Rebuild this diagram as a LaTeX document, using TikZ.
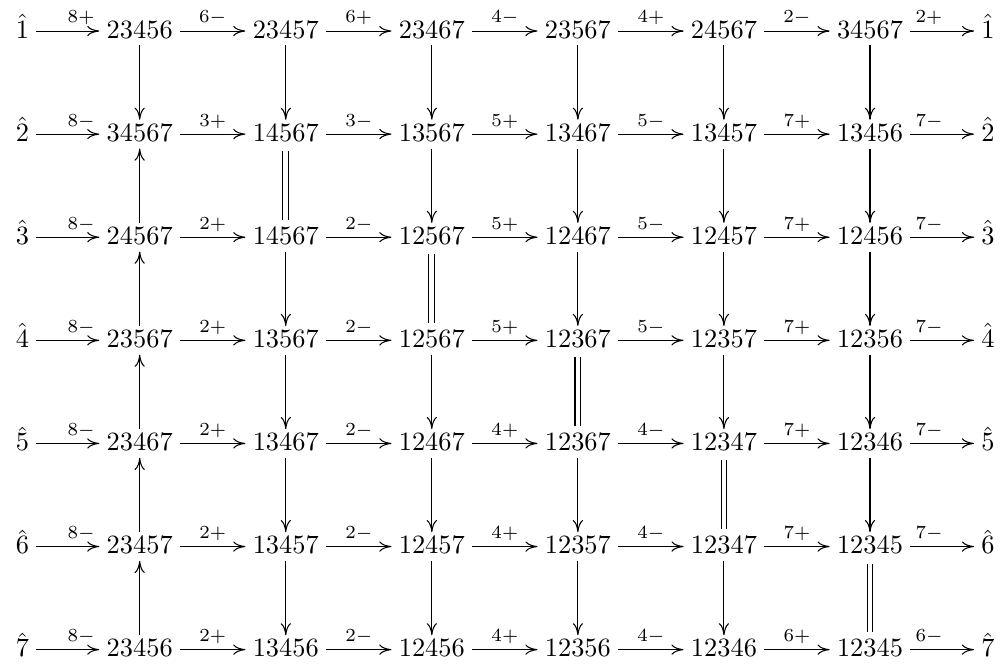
\documentclass[tikz,border=0pt]{standalone}
\usetikzlibrary{arrows.meta}
\newcommand\rownodes[7]{%
  \pgfmathsetmacro\yy{38.3+103.1*(#1-1)}%
  \node[cell] (L#1) at (22.5,\yy) {$\hat{#1}$};
  \node[cell] (n#1-1) at (139.7,\yy) {$#2$};
  \node[cell] (n#1-2) at (285.76,\yy) {$#3$};
  \node[cell] (n#1-3) at (431.82,\yy) {$#4$};
  \node[cell] (n#1-4) at (577.88,\yy) {$#5$};
  \node[cell] (n#1-5) at (723.94,\yy) {$#6$};
  \node[cell] (n#1-6) at (870,\yy) {$#7$};
  \node[cell] (R#1) at (988,\yy) {$\hat{#1}$};
}
\newcommand\rowlabels[8]{%
  \draw[arr] (L#1) -- (n#1-1);
  \path (L#1.base) -- node[lbl] (l#1-0) {$#2$} (n#1-1.base);
  \draw[arr] (n#1-1) -- (n#1-2);
  \path (n#1-1.base) -- node[lbl] (l#1-1) {$#3$} (n#1-2.base);
  \draw[arr] (n#1-2) -- (n#1-3);
  \path (n#1-2.base) -- node[lbl] (l#1-2) {$#4$} (n#1-3.base);
  \draw[arr] (n#1-3) -- (n#1-4);
  \path (n#1-3.base) -- node[lbl] (l#1-3) {$#5$} (n#1-4.base);
  \draw[arr] (n#1-4) -- (n#1-5);
  \path (n#1-4.base) -- node[lbl] (l#1-4) {$#6$} (n#1-5.base);
  \draw[arr] (n#1-5) -- (n#1-6);
  \path (n#1-5.base) -- node[lbl] (l#1-5) {$#7$} (n#1-6.base);
  \draw[arr] (n#1-6) -- (R#1);
  \path (n#1-6.base) -- node[lbl] (l#1-6) {$#8$} (R#1.base);
}
\newcommand\dn[2]{\draw[arr] (#1.south) -- (#2.north);}
\newcommand\up[2]{\draw[arr] (#2.north) -- (#1.south);}
\newcommand\eqv[2]{\draw[eq] (#1.south) -- (#2.north);}
\begin{document}
\begin{tikzpicture}[x=0.3788pt,y=-0.3788pt,
  cell/.style={anchor=base,inner xsep=2.6pt,inner ysep=2.5pt,text height=5.5pt,text depth=0pt,font=\normalsize},
  arr/.style={-{Computer Modern Rightarrow[length=4.6pt,width=3.9pt]},line width=0.4pt},
  eq/.style={double,double distance=1.8pt,line width=0.4pt,shorten <=1pt,shorten >=1.2pt},
  lbl/.style={anchor=base,inner sep=0pt,font=\scriptsize,yshift=5.8pt}]
\useasboundingbox (0,0) rectangle (1005,668);
\rownodes{1}{23456}{23457}{23467}{23567}{24567}{34567}
\rownodes{2}{34567}{14567}{13567}{13467}{13457}{13456}
\rownodes{3}{24567}{14567}{12567}{12467}{12457}{12456}
\rownodes{4}{23567}{13567}{12567}{12367}{12357}{12356}
\rownodes{5}{23467}{13467}{12467}{12367}{12347}{12346}
\rownodes{6}{23457}{13457}{12457}{12357}{12347}{12345}
\rownodes{7}{23456}{13456}{12456}{12356}{12346}{12345}
\rowlabels{1}{8+}{6-}{6+}{4-}{4+}{2-}{2+}
\rowlabels{2}{8-}{3+}{3-}{5+}{5-}{7+}{7-}
\rowlabels{3}{8-}{2+}{2-}{5+}{5-}{7+}{7-}
\rowlabels{4}{8-}{2+}{2-}{5+}{5-}{7+}{7-}
\rowlabels{5}{8-}{2+}{2-}{4+}{4-}{7+}{7-}
\rowlabels{6}{8-}{2+}{2-}{4+}{4-}{7+}{7-}
\rowlabels{7}{8-}{2+}{2-}{4+}{4-}{6+}{6-}
% column 1
\dn{n1-1}{n2-1}
\up{n2-1}{n3-1}
\up{n3-1}{n4-1}
\up{n4-1}{n5-1}
\up{n5-1}{n6-1}
\up{n6-1}{n7-1}
% column 2
\dn{n1-2}{n2-2}
\eqv{n2-2}{n3-2}
\dn{n3-2}{n4-2}
\dn{n4-2}{n5-2}
\dn{n5-2}{n6-2}
\dn{n6-2}{n7-2}
% column 3
\dn{n1-3}{n2-3}
\dn{n2-3}{n3-3}
\eqv{n3-3}{n4-3}
\dn{n4-3}{n5-3}
\dn{n5-3}{n6-3}
\dn{n6-3}{n7-3}
% column 4
\dn{n1-4}{n2-4}
\dn{n2-4}{n3-4}
\dn{n3-4}{n4-4}
\eqv{n4-4}{n5-4}
\dn{n5-4}{n6-4}
\dn{n6-4}{n7-4}
% column 5
\dn{n1-5}{n2-5}
\dn{n2-5}{n3-5}
\dn{n3-5}{n4-5}
\dn{n4-5}{n5-5}
\eqv{n5-5}{n6-5}
\dn{n6-5}{n7-5}
% column 6
\dn{n1-6}{n2-6}
\dn{n2-6}{n3-6}
\dn{n3-6}{n4-6}
\dn{n4-6}{n5-6}
\dn{n5-6}{n6-6}
\eqv{n6-6}{n7-6}
\end{tikzpicture}
\end{document}
